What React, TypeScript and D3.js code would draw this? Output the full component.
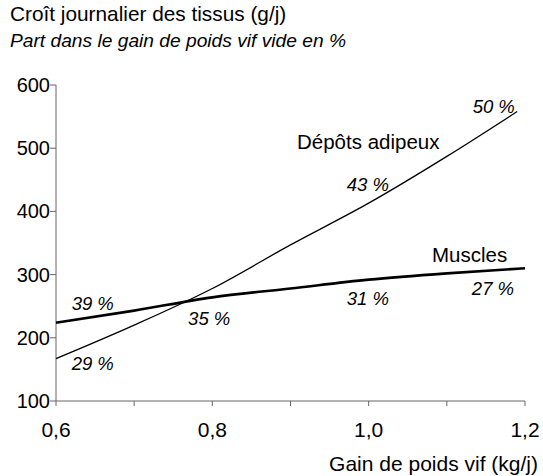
import React from "react";
import * as d3 from "d3";

const xTicks = [0.6, 0.7, 0.8, 0.9, 1.0, 1.1, 1.2];
const xTickLabels = ["0,6", "", "0,8", "", "1,0", "", "1,2"];
const yTicks = [100, 200, 300, 400, 500, 600];

const adipeuxX = [0.6, 0.7, 0.8, 0.9, 1.0, 1.1, 1.19];
const adipeuxY = [167, 220, 278, 347, 413, 487, 558];
const musclesX = [0.6, 0.7, 0.8, 0.9, 1.0, 1.1, 1.2];
const musclesY = [224, 243, 264, 278, 292, 302, 310];

const pctLabels = ["39 %", "29 %", "35 %", "31 %", "27 %", "43 %", "50 %"];
const pctX = [0.647, 0.647, 0.796, 0.999, 1.159, 0.999, 1.16];
const pctY = [244, 149, 220, 252, 268, 432, 556];

const W = 543, H = 476;
const x = d3.scaleLinear().domain([0.6, 1.2]).range([56, 525]);
const y = d3.scaleLinear().domain([100, 600]).range([401, 85]);

export default function App() {
  const line = d3
    .line<[number, number]>()
    .x((d) => x(d[0]))
    .y((d) => y(d[1]))
    .curve(d3.curveMonotoneX);
  const adip = adipeuxX.map((v, i) => [v, adipeuxY[i]] as [number, number]);
  const musc = musclesX.map((v, i) => [v, musclesY[i]] as [number, number]);
  const font = "'Liberation Sans', Arial, Helvetica, sans-serif";
  const axisColor = "#666";
  return (
    <svg
      width={W}
      height={H}
      style={{ position: "absolute", left: 0, top: 0, display: "block", background: "#fff" }}
      fontFamily={font}
    >
      <text x={10} y={21} fontSize={20.8} fill="#000">Croît journalier des tissus (g/j)</text>
      <text x={10} y={47} fontSize={19.2} fontStyle="italic" fill="#000">
        Part dans le gain de poids vif vide en %
      </text>

      {/* y axis */}
      <line x1={x(0.6)} x2={x(0.6)} y1={y(600)} y2={y(100)} stroke={axisColor} strokeWidth={1} />
      {yTicks.map((t) => (
        <g key={t}>
          <line x1={x(0.6) - 6} x2={x(0.6)} y1={y(t)} y2={y(t)} stroke={axisColor} strokeWidth={1} />
          <text x={x(0.6) - 6} y={y(t) + 7} textAnchor="end" fontSize={20} fill="#000">{t}</text>
        </g>
      ))}

      {/* x axis */}
      <line x1={x(0.6)} x2={x(1.2)} y1={y(100)} y2={y(100)} stroke={axisColor} strokeWidth={1} />
      {xTicks.map((t, i) => (
        <g key={t}>
          <line x1={x(t)} x2={x(t)} y1={y(100)} y2={y(100) + 5} stroke={axisColor} strokeWidth={1} />
          {xTickLabels[i] && (
            <text x={x(t)} y={437} textAnchor="middle" fontSize={21} fill="#000">{xTickLabels[i]}</text>
          )}
        </g>
      ))}
      <text x={538} y={471} textAnchor="end" fontSize={21} fill="#000">Gain de poids vif (kg/j)</text>

      {/* lines */}
      <path d={line(adip) || ""} fill="none" stroke="#000" strokeWidth={1.3} />
      <path d={line(musc) || ""} fill="none" stroke="#000" strokeWidth={2.6} />

      {/* series labels */}
      <text x={297} y={149} fontSize={20.5} fill="#000">Dépôts adipeux</text>
      <text x={432} y={262} fontSize={20.5} fill="#000">Muscles</text>

      {pctLabels.map((l, i) => (
        <text
          key={i}
          x={x(pctX[i])}
          y={y(pctY[i])}
          textAnchor="middle"
          fontSize={18.5}
          fontStyle="italic"
          fill="#000"
        >
          {l}
        </text>
      ))}
    </svg>
  );
}
